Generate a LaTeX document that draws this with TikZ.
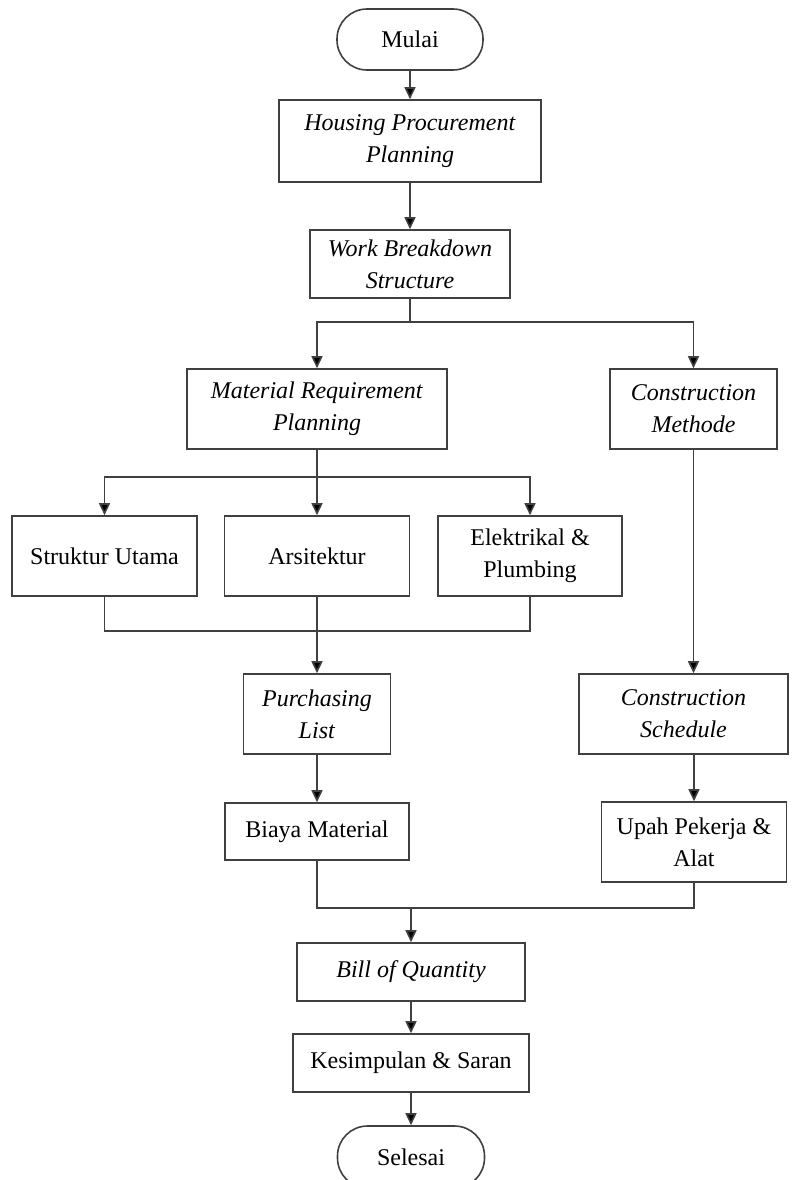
\documentclass[tikz,border=0pt]{standalone}
\usepackage{fontspec}
\setmainfont{Liberation Serif}
\usetikzlibrary{arrows.meta}

\begin{document}
\begin{tikzpicture}[x=0.5pt,y=-0.5pt,
	every node/.style={draw=black!75,line width=0.8pt,inner sep=0pt,align=center,font=\fontsize{12}{16}\selectfont},
	terminal/.style={rounded corners=15pt},
	link/.style={draw=black!75,line width=0.8pt},
	arr/.style={link,-{Triangle[length=6pt,width=5.5pt,fill=black]}}]
	%% page size (reference pixels)
	\useasboundingbox (0,0) rectangle (796,1180);

	\def\rowA{409} % second level
	\def\rowB{556} % material groups
	\def\rowC{714} % lists / schedule

	% main column
	\node[terminal,minimum width=73pt,minimum height=30.5pt] (mulai) at (410,39.5) {Mulai};
	\node[minimum width=131pt,minimum height=41pt] (housing) at (410,141) {\textit{Housing Procurement}\\\textit{Planning}};
	\node[minimum width=100pt,minimum height=34pt] (wbs) at (410,264) {\textit{Work Breakdown}\\\textit{Structure}};

	\node[minimum width=130pt,minimum height=40pt] (mrp) at (317,\rowA) {\textit{Material Requirement}\\\textit{Planning}};
	\node[minimum width=83.5pt,minimum height=40pt] (cm) at (693.5,\rowA) {\textit{Construction}\\\textit{Methode}};

	\node[minimum width=92.5pt,minimum height=40pt] (struktur) at (104.5,\rowB) {Struktur Utama};
	\node[minimum width=92.5pt,minimum height=40pt] (arsi) at (317,\rowB) {Arsitektur};
	\node[minimum width=92pt,minimum height=40pt] (elek) at (530,\rowB) {Elektrikal \&\\Plumbing};

	\node[minimum width=73.5pt,minimum height=40pt] (purch) at (317,\rowC) {\textit{Purchasing}\\\textit{List}};
	\node[minimum width=104.5pt,minimum height=40pt] (cs) at (683.5,\rowC) {\textit{Construction}\\\textit{Schedule}};

	\node[minimum width=92pt,minimum height=28.5pt] (biaya) at (317,831.5) {Biaya Material};
	\node[minimum width=92.5pt,minimum height=40pt] (upah) at (694,842) {Upah Pekerja \&\\Alat};

	\node[minimum width=114pt,minimum height=29pt] (boq) at (411,972) {\textit{Bill of Quantity}};
	\node[minimum width=118pt,minimum height=29pt] (kesim) at (411,1063) {Kesimpulan \& Saran};
	\node[terminal,minimum width=73.5pt,minimum height=31pt] (selesai) at (411,1157) {Selesai};

	% junction points
	\coordinate (split1) at (410,322);
	\coordinate (split2) at (317,477);
	\coordinate (join1) at (317,631);
	\coordinate (join2) at (411,908);

	\draw[arr] (mulai) -- (housing);
	\draw[arr] (housing) -- (wbs);
	\draw[link] (wbs) -- (split1);
	\draw[arr] (split1) -| (mrp.north);
	\draw[arr] (split1) -| (cm.north);

	\draw[link] (mrp) -- (split2);
	\draw[arr] (split2) -| (struktur.north);
	\draw[arr] (split2) -- (arsi.north);
	\draw[arr] (split2) -| (elek.north);

	\draw[link] (struktur.south) |- (elek.south |- join1) -- (elek.south);
	\draw[arr] (arsi.south) -- (purch.north);
	\draw[arr] (purch) -- (biaya);

	\draw[arr] (cm.south) -- (cm.south |- cs.north);
	\draw[arr] (upah.north |- cs.south) -- (upah.north);

	\draw[link] (biaya.south) |- (upah.south |- join2) -- (upah.south);
	\draw[arr] (join2) -- (boq.north);
	\draw[arr] (boq) -- (kesim);
	\draw[arr] (kesim) -- (selesai);
\end{tikzpicture}
\end{document}
